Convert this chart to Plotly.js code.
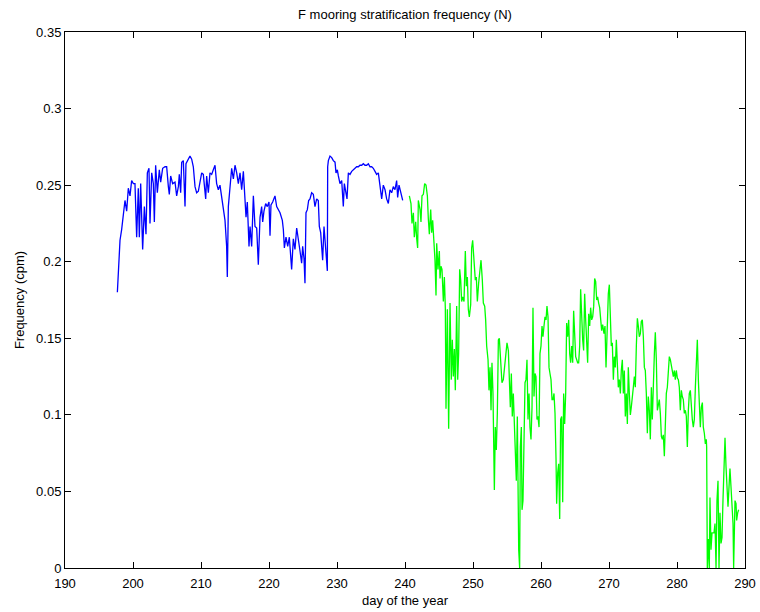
<!DOCTYPE html>
<html>
<head>
<meta charset="utf-8">
<script src="https://cdn.plot.ly/plotly-3.0.1.min.js"></script>
<style>html,body{margin:0;padding:0;background:#fff;}#chart{width:760px;height:612px;}</style>
</head>
<body>
<div id="chart"></div>
<script>
const blueDays = [197.70,197.84,198.09,198.33,198.48,198.82,199.07,199.31,199.56,199.80,200.05,200.29,200.54,200.78,200.93,201.13,201.42,201.67,201.91,202.11,202.35,202.50,202.75,202.99,203.14,203.33,203.58,203.87,204.07,204.36,204.71,204.95,205.20,205.34,205.54,205.83,206.18,206.42,206.67,206.81,207.01,207.16,207.40,207.65,207.79,208.14,208.38,208.63,208.87,209.12,209.36,209.61,209.85,210.10,210.34,210.49,210.69,210.83,211.08,211.32,211.57,211.81,212.06,212.30,212.55,212.79,213.04,213.28,213.53,213.77,213.87,214.02,214.27,214.51,214.76,215.00,215.25,215.49,215.74,215.98,216.23,216.47,216.62,216.81,217.06,217.21,217.45,217.70,217.94,218.19,218.43,218.68,218.92,219.07,219.26,219.51,219.75,220.00,220.15,220.29,220.54,220.88,221.13,221.62,221.96,222.11,222.26,222.50,222.75,222.99,223.19,223.33,223.58,223.82,224.07,224.31,224.56,224.80,224.95,225.15,225.29,225.44,225.64,225.83,226.03,226.27,226.52,226.76,227.01,227.25,227.40,227.60,227.75,227.89,228.09,228.24,228.38,228.58,228.63,228.73,228.97,229.22,229.46,229.71,229.85,230.05,230.20,230.44,230.69,230.93,231.08,231.27,231.47,231.67,231.91,232.16,232.40,232.65,232.89,233.14,233.38,233.63,233.87,234.12,234.36,234.61,234.85,235.10,235.34,235.59,235.83,236.08,236.32,236.57,236.81,237.06,237.30,237.55,237.79,238.04,238.28,238.53,238.77,238.92,239.12,239.36,239.66];
const blueN = [0.180,0.197,0.214,0.221,0.227,0.240,0.233,0.248,0.243,0.253,0.251,0.251,0.216,0.248,0.216,0.251,0.208,0.236,0.218,0.258,0.261,0.225,0.258,0.251,0.226,0.263,0.245,0.260,0.252,0.261,0.262,0.262,0.249,0.244,0.256,0.251,0.252,0.243,0.249,0.257,0.245,0.265,0.266,0.236,0.264,0.267,0.269,0.267,0.262,0.249,0.245,0.246,0.251,0.258,0.257,0.249,0.241,0.256,0.245,0.258,0.257,0.260,0.263,0.251,0.247,0.250,0.242,0.236,0.227,0.210,0.190,0.236,0.247,0.261,0.254,0.263,0.258,0.251,0.258,0.247,0.259,0.236,0.229,0.239,0.210,0.223,0.210,0.243,0.223,0.222,0.198,0.229,0.236,0.226,0.233,0.238,0.236,0.239,0.217,0.237,0.239,0.243,0.236,0.232,0.227,0.221,0.209,0.216,0.210,0.216,0.205,0.195,0.215,0.208,0.222,0.216,0.207,0.199,0.210,0.202,0.186,0.232,0.234,0.240,0.241,0.245,0.244,0.236,0.241,0.240,0.223,0.219,0.208,0.201,0.223,0.214,0.210,0.194,0.262,0.266,0.269,0.268,0.266,0.265,0.258,0.260,0.256,0.251,0.253,0.236,0.251,0.247,0.241,0.258,0.257,0.259,0.260,0.261,0.262,0.262,0.263,0.263,0.264,0.263,0.263,0.264,0.262,0.262,0.261,0.259,0.257,0.258,0.249,0.241,0.250,0.247,0.241,0.238,0.247,0.245,0.249,0.247,0.253,0.242,0.250,0.245,0.240];

const greenDays = [240.64,240.88,241.03,241.23,241.37,241.57,241.72,241.86,241.96,242.21,242.35,242.50,242.70,242.89,243.09,243.29,243.43,243.58,243.78,243.92,244.07,244.27,244.41,244.56,244.66,244.85,245.05,245.15,245.29,245.44,245.64,245.79,245.93,246.03,246.23,246.42,246.62,246.81,246.96,247.11,247.26,247.40,247.60,247.75,247.89,248.04,248.19,248.33,248.48,248.68,248.87,249.02,249.17,249.31,249.46,249.66,249.80,249.95,250.15,250.34,250.49,250.64,250.83,251.03,251.18,251.37,251.52,251.72,251.86,252.01,252.21,252.35,252.50,252.65,252.79,252.94,253.14,253.28,253.43,253.58,253.73,253.87,254.07,254.26,254.46,254.66,254.85,255.00,255.20,255.34,255.49,255.64,255.78,255.93,256.08,256.23,256.37,256.52,256.62,256.72,256.86,256.96,257.11,257.21,257.35,257.50,257.65,257.79,257.94,258.09,258.24,258.38,258.53,258.68,258.82,258.97,259.12,259.26,259.41,259.56,259.71,259.85,260.00,260.15,260.29,260.44,260.59,260.74,260.88,261.03,261.18,261.32,261.47,261.62,261.76,261.91,262.06,262.21,262.30,262.45,262.60,262.75,262.89,263.04,263.19,263.33,263.48,263.63,263.77,263.92,264.07,264.22,264.36,264.51,264.66,264.80,264.95,265.10,265.25,265.39,265.54,265.69,265.83,265.98,266.13,266.27,266.42,266.57,266.72,266.86,267.01,267.16,267.30,267.45,267.60,267.75,267.89,268.04,268.19,268.33,268.48,268.63,268.92,269.07,269.26,269.41,269.56,269.75,269.90,270.05,270.20,270.34,270.49,270.64,270.78,270.93,271.08,271.23,271.37,271.52,271.67,271.81,271.96,272.11,272.25,272.40,272.55,272.70,272.84,272.99,273.14,273.28,273.43,273.58,273.73,273.87,274.02,274.17,274.31,274.46,274.61,274.75,274.90,275.05,275.20,275.34,275.49,275.64,275.78,275.93,276.08,276.23,276.37,276.52,276.67,276.81,276.96,277.11,277.25,277.40,277.55,277.70,277.84,277.99,278.14,278.28,278.43,278.58,278.73,278.87,279.02,279.17,279.31,279.46,279.61,279.75,279.90,280.05,280.20,280.34,280.49,280.64,280.78,280.93,281.08,281.23,281.37,281.52,281.67,281.81,281.96,282.11,282.25,282.40,282.55,282.70,282.84,282.99,283.14,283.28,283.43,283.58,283.73,283.87,284.02,284.17,284.31,284.36,284.46,284.61,284.75,284.85,285.00,285.15,285.29,285.44,285.59,285.74,285.88,286.03,286.18,286.32,286.47,286.62,286.76,286.91,287.06,287.21,287.35,287.50,287.65,287.79,287.94,288.09,288.24,288.33,288.43,288.53,288.68,288.77,288.92,289.07];
const greenN = [0.243,0.238,0.225,0.232,0.216,0.226,0.215,0.209,0.240,0.234,0.226,0.243,0.244,0.251,0.250,0.243,0.228,0.218,0.234,0.219,0.227,0.214,0.201,0.178,0.212,0.195,0.207,0.189,0.197,0.195,0.174,0.190,0.170,0.104,0.169,0.091,0.173,0.123,0.149,0.125,0.143,0.116,0.171,0.123,0.140,0.195,0.188,0.174,0.177,0.174,0.207,0.184,0.190,0.169,0.164,0.172,0.209,0.214,0.201,0.188,0.190,0.174,0.186,0.195,0.201,0.188,0.173,0.171,0.162,0.145,0.136,0.116,0.131,0.103,0.134,0.114,0.051,0.092,0.077,0.101,0.149,0.150,0.134,0.121,0.123,0.131,0.140,0.147,0.142,0.127,0.105,0.127,0.099,0.114,0.090,0.062,0.057,0.099,0.057,0.012,0.000,0.079,0.092,0.038,0.044,0.097,0.121,0.123,0.136,0.097,0.114,0.092,0.084,0.105,0.170,0.112,0.127,0.125,0.097,0.099,0.092,0.140,0.145,0.158,0.151,0.158,0.164,0.162,0.171,0.164,0.131,0.127,0.123,0.110,0.110,0.114,0.101,0.071,0.042,0.062,0.068,0.032,0.097,0.099,0.043,0.114,0.094,0.114,0.160,0.151,0.162,0.140,0.134,0.145,0.134,0.168,0.155,0.138,0.136,0.134,0.134,0.145,0.182,0.162,0.149,0.142,0.179,0.162,0.149,0.134,0.166,0.158,0.170,0.162,0.164,0.171,0.189,0.187,0.175,0.177,0.173,0.170,0.155,0.159,0.153,0.158,0.131,0.168,0.179,0.185,0.162,0.145,0.147,0.123,0.138,0.131,0.149,0.131,0.118,0.123,0.114,0.129,0.136,0.114,0.129,0.099,0.114,0.094,0.131,0.114,0.100,0.105,0.114,0.118,0.125,0.118,0.145,0.163,0.158,0.151,0.153,0.161,0.162,0.151,0.131,0.129,0.114,0.088,0.112,0.103,0.084,0.118,0.097,0.123,0.140,0.154,0.136,0.103,0.108,0.110,0.101,0.086,0.084,0.087,0.073,0.088,0.114,0.118,0.134,0.138,0.136,0.131,0.127,0.125,0.129,0.123,0.129,0.124,0.123,0.118,0.103,0.116,0.112,0.110,0.101,0.103,0.099,0.079,0.103,0.114,0.116,0.101,0.097,0.092,0.097,0.118,0.136,0.149,0.123,0.105,0.092,0.105,0.108,0.092,0.088,0.081,0.084,0.079,0.000,0.019,0.000,0.046,0.012,0.023,0.023,0.023,0.029,0.000,0.044,0.057,0.000,0.036,0.016,0.020,0.044,0.071,0.085,0.066,0.049,0.040,0.053,0.065,0.053,0.044,0.029,0.000,0.027,0.044,0.042,0.031,0.036,0.038];

const titleText = 'F mooring stratification frequency (N)';
const xTitle = 'day of the year';
const yTitle = 'Frequency (cpm)';

const font = {family: 'Liberation Sans, Arial, Helvetica, sans-serif', size: 13, color: '#000'};

const traces = [
  {x: blueDays, y: blueN, type: 'scatter', mode: 'lines', line: {color: '#0000ff', width: 1.3}, hoverinfo: 'skip'},
  {x: greenDays, y: greenN, type: 'scatter', mode: 'lines', line: {color: '#00ff00', width: 1.3}, hoverinfo: 'skip'}
];

const axisCommon = {
  showgrid: false, zeroline: false, showline: true, mirror: 'ticks',
  linecolor: '#000', linewidth: 1, ticks: 'inside', ticklen: 6, tickwidth: 1, tickcolor: '#000',
  tickfont: font, automargin: false
};

const layout = {
  width: 760, height: 612,
  margin: {l: 65, r: 15, t: 32, b: 44, pad: 0},
  paper_bgcolor: '#fff', plot_bgcolor: '#fff',
  showlegend: false,
  font: font,
  title: {text: titleText, font: font, x: 0.5, xref: 'paper', y: 1 - 14/612, yref: 'container', yanchor: 'middle'},
  xaxis: Object.assign({}, axisCommon, {
    range: [190, 290], tick0: 190, dtick: 10, ticklabelstandoff: 3,
    title: {text: xTitle, font: font, standoff: 6}
  }),
  yaxis: Object.assign({}, axisCommon, {
    range: [0, 0.35], tick0: 0, dtick: 0.05,
    title: {text: yTitle, font: font, standoff: 8}
  })
};

Plotly.newPlot('chart', traces, layout, {staticPlot: true, displayModeBar: false});
</script>
</body>
</html>
